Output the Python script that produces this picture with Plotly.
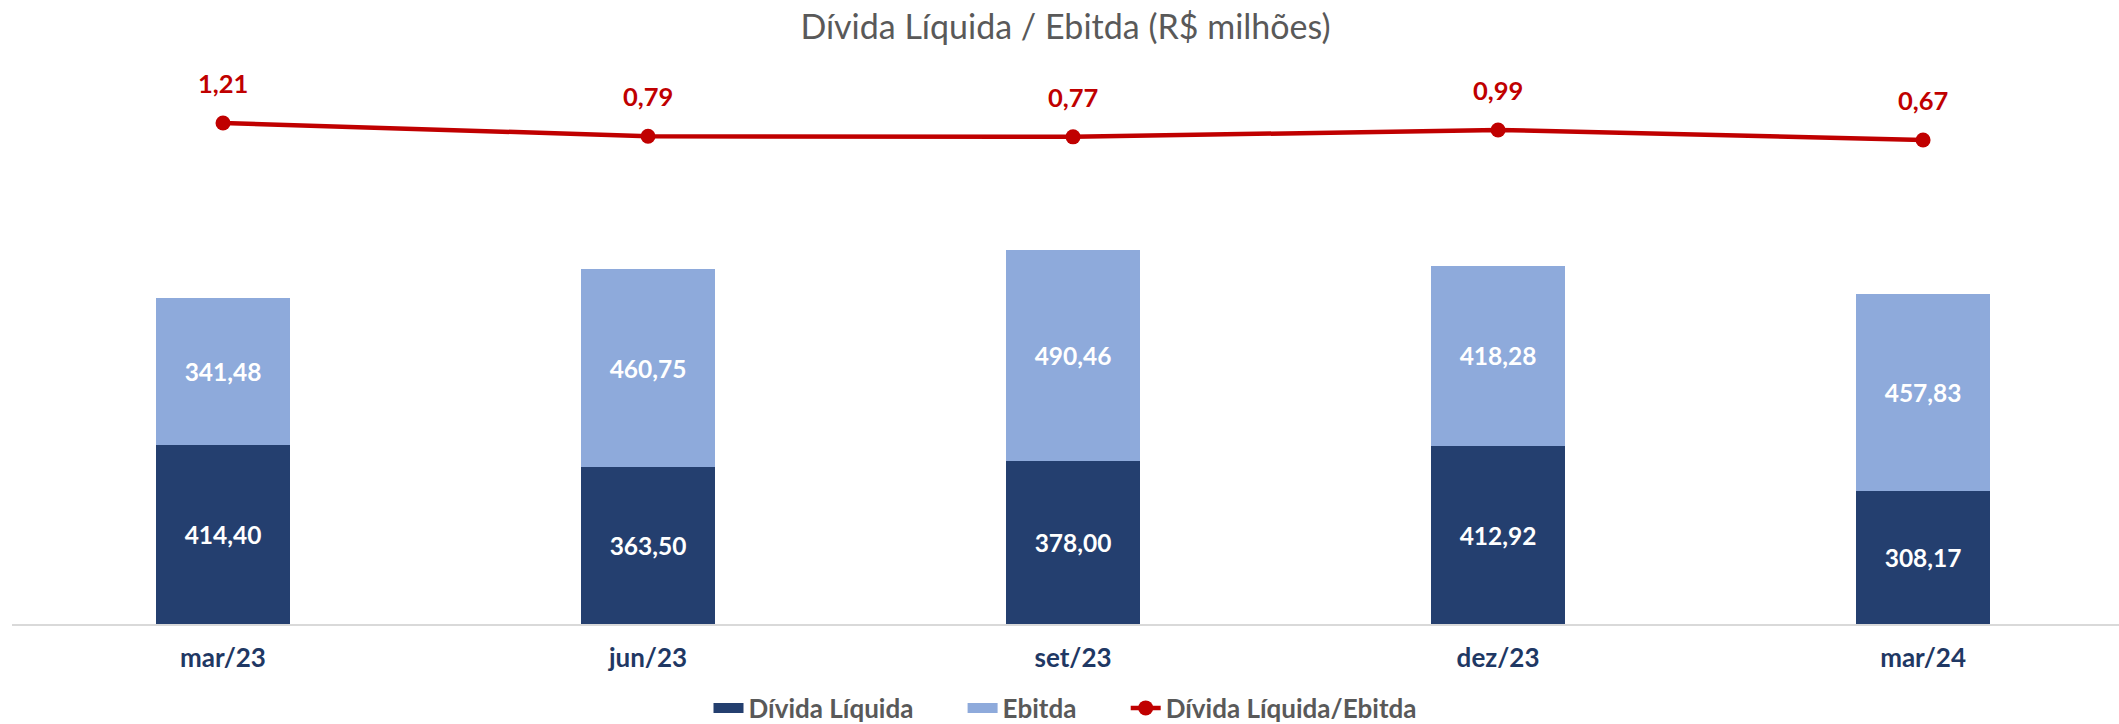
import plotly.graph_objects as go

categories = ["mar/23", "jun/23", "set/23", "dez/23", "mar/24"]
divida_liquida = [414.40, 363.50, 378.00, 412.92, 308.17]
ebitda = [341.48, 460.75, 490.46, 418.28, 457.83]
divida_ebitda = [1.21, 0.79, 0.77, 0.99, 0.67]

DARK = "#243F6F"
LIGHT = "#8EAADB"
RED = "#C00000"
GRAY = "#595959"
NAVY = "#1F3864"
FONT = "Lato, 'Liberation Sans', sans-serif"
PAD = "\u00a0" * 7  # spacing after legend entries

W, H = 2119, 724
ML, MR, MT, MB = 12, 0, 60, 100
plot_h = H - MT - MB

fig = go.Figure()

fig.add_trace(go.Bar(
    name="Dívida Líquida", x=categories, y=divida_liquida,
    marker=dict(color=DARK, line=dict(width=0)),
    width=0.316, showlegend=False, legendgroup="dl",
    texttemplate="%{y:.2f}", textposition="inside", insidetextanchor="middle",
    textangle=0, constraintext="none",
    textfont=dict(family=FONT, size=24.5, color="white", weight="bold"),
))
fig.add_trace(go.Bar(
    name="Ebitda", x=categories, y=ebitda,
    marker=dict(color=LIGHT, line=dict(width=0)),
    width=0.316, showlegend=False, legendgroup="eb",
    texttemplate="%{y:.2f}", textposition="inside", insidetextanchor="middle",
    textangle=0, constraintext="none",
    textfont=dict(family=FONT, size=24.5, color="white", weight="bold"),
))
# legend-only swatches (wide rectangles like the reference legend)
fig.add_trace(go.Scatter(
    name="Dívida Líquida" + PAD, x=[None], y=[None], mode="lines", legendgroup="dl",
    line=dict(color=DARK, width=13),
))
fig.add_trace(go.Scatter(
    name="Ebitda" + PAD, x=[None], y=[None], mode="lines", legendgroup="eb",
    line=dict(color=LIGHT, width=13),
))
fig.add_trace(go.Scatter(
    name="Dívida Líquida/Ebitda", x=categories, y=divida_ebitda, yaxis="y2",
    mode="lines+markers",
    line=dict(color=RED, width=4.5),
    marker=dict(color=RED, size=15),
))

for c, v in zip(categories, divida_ebitda):
    fig.add_annotation(
        x=c, y=v, xref="x", yref="y2", yshift=40,
        text=f"{v:.2f}".replace(".", ","), showarrow=False,
        font=dict(family=FONT, size=25.5, color=RED, weight="bold"),
    )

# primary scale: ~0.431 px per unit; secondary: ~31.5 px per unit, 1.21 at y=123px
y1_max = plot_h / 0.431
y2_top = 1.21 + (123 - MT) / 31.5
y2_bot = y2_top - plot_h / 31.5

fig.update_layout(
    width=W, height=H,
    margin=dict(l=ML, r=MR, t=MT, b=MB),
    paper_bgcolor="white", plot_bgcolor="white",
    barmode="stack",
    separators=",.",
    title=dict(
        text="Dívida Líquida / Ebitda (R$ milhões)",
        x=0.5, xref="paper", xanchor="center",
        y=1 - 27 / H, yref="container", yanchor="middle",
        font=dict(family=FONT, size=34, color=GRAY),
    ),
    xaxis=dict(
        range=[-0.4965, 4.461],
        showline=True, linecolor="#D9D9D9", linewidth=1.5,
        showgrid=False, zeroline=False, ticks="",
        ticklabelstandoff=10,
        tickfont=dict(family=FONT, size=26, color=NAVY, weight="bold"),
    ),
    yaxis=dict(range=[0, y1_max], visible=False, showgrid=False),
    yaxis2=dict(range=[y2_bot, y2_top], overlaying="y", visible=False, showgrid=False),
    legend=dict(
        orientation="h", x=0.5, xanchor="center",
        y=1 - 708 / H, yref="container", yanchor="middle",
        font=dict(family=FONT, size=26, color=GRAY, weight="bold"),
        traceorder="normal",
    ),
    showlegend=True,
)

fig.write_html(
    "out.html",
    config={"displayModeBar": False},
    post_script="document.body.style.margin='0px';",
)
